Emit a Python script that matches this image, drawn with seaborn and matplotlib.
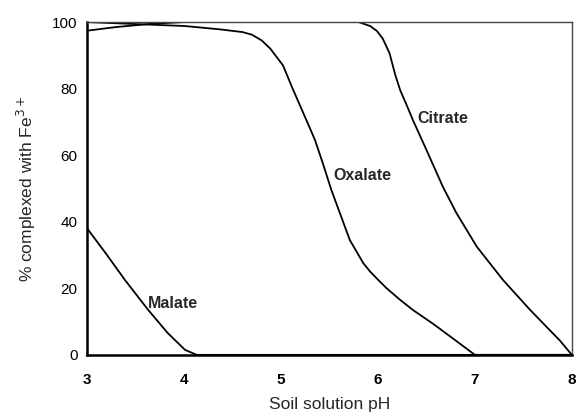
import pandas as pd
import matplotlib.pyplot as plt
import seaborn as sns

# --- データ ---
ph_citrate = [3.0, 3.3, 3.67, 4.0, 5.0, 5.8, 5.92, 5.99, 6.05, 6.12, 6.18,
              6.23, 6.3, 6.36, 6.5, 6.67, 6.81, 7.02, 7.29, 7.57, 7.88, 8.0]
pct_citrate = [97.4, 98.5, 99.5, 100, 100, 100, 98.8, 97.3, 95.0, 90.6, 84.0,
               79.5, 74.8, 70.6, 61.6, 50.5, 42.6, 32.5, 22.5, 13.5, 4.2, 0]

ph_oxalate = [3.0, 3.5, 4.01, 4.37, 4.6, 4.7, 4.8, 4.89, 5.02, 5.12, 5.27,
              5.35, 5.43, 5.52, 5.71, 5.85, 5.92, 6.02, 6.09, 6.23, 6.36,
              6.57, 6.77, 7.0, 8.0]
pct_oxalate = [100, 99.4, 98.8, 97.8, 97.0, 96.2, 94.5, 92, 87, 80, 70,
               64.6, 57.7, 49.5, 34.5, 27.5, 25.0, 22.0, 20.0, 16.5, 13.5,
               9.3, 5.0, 0, 0]

ph_malate = [3.0, 3.19, 3.39, 3.63, 3.83, 4.01, 4.13, 8.0]
pct_malate = [38, 30.6, 22.5, 13.5, 6.6, 1.5, 0, 0]

labels = ['Citrate', 'Oxalate', 'Malate']
label_pos = [(6.41, 71), (5.54, 54), (3.63, 15.3)]


def main():
    sns.set_style('white')
    plt.rcParams['font.family'] = ['Liberation Sans', 'DejaVu Sans']

    fig = plt.figure(figsize=(5.77, 4.16), dpi=100)
    ax = fig.add_axes([0.151, 0.147, 0.840, 0.800])

    series = [(ph_citrate, pct_citrate), (ph_oxalate, pct_oxalate),
              (ph_malate, pct_malate)]
    for name, (xs, ys) in zip(labels, series):
        df = pd.DataFrame({'pH': xs, 'pct': ys})
        sns.lineplot(data=df, x='pH', y='pct', ax=ax, color='black',
                     linewidth=1.3, estimator=None, sort=False)

    for name, (tx, ty) in zip(labels, label_pos):
        ax.text(tx, ty, name, fontsize=11.5, fontweight='bold',
                ha='left', va='center')

    ax.set_xlim(3, 8)
    ax.set_ylim(0, 100)
    ax.set_xticks([3, 4, 5, 6, 7, 8])
    ax.set_yticks([0, 20, 40, 60, 80, 100])
    for lbl in ax.get_xticklabels():
        lbl.set_fontweight('bold')
    ax.tick_params(axis='both', direction='out', length=4, width=1,
                   colors='black', labelsize=11)
    ax.tick_params(axis='x', pad=9)
    ax.tick_params(axis='y', pad=3)

    ax.set_xlabel('Soil solution pH', fontsize=12.5, labelpad=7)
    ax.set_ylabel('% complexed with Fe$^{3+}$', fontsize=12.5, labelpad=10)

    for side in ['top', 'right']:
        ax.spines[side].set_color('#444444')
        ax.spines[side].set_linewidth(1)
    for side in ['left', 'bottom']:
        ax.spines[side].set_color('black')
        ax.spines[side].set_linewidth(1.8)
    ax.grid(False)

    fig.savefig('out.png', dpi=100)


if __name__ == "__main__":
    main()
